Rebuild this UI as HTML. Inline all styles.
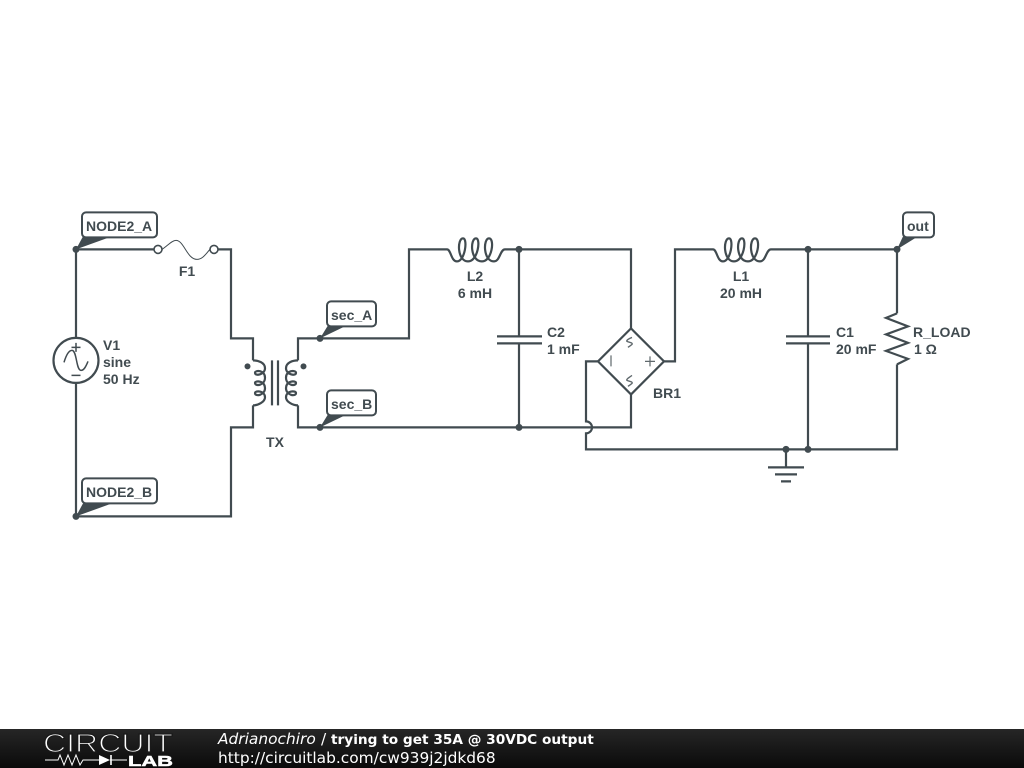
<!DOCTYPE html>
<html><head><meta charset="utf-8"><style>
html,body{margin:0;padding:0;background:#fff;width:1024px;height:768px;overflow:hidden}
svg{display:block}
.w{fill:none;stroke:#414b50;stroke-width:2.2;stroke-linejoin:miter}
.t{font-family:"Liberation Sans",sans-serif;font-weight:bold;font-size:14px;fill:#414b50}
.b{fill:#fff;stroke:#414b50;stroke-width:2}
.f{font-family:"DejaVu Sans",sans-serif;font-size:15.4px;fill:#fff}
</style></head><body>
<svg width="1024" height="768" viewBox="0 0 1024 768" xmlns="http://www.w3.org/2000/svg">
<defs><linearGradient id="g" x1="0" y1="0" x2="0" y2="1"><stop offset="0" stop-color="#262626"/><stop offset="1" stop-color="#0a0a0a"/></linearGradient></defs>
<rect width="1024" height="768" fill="#fff"/>
<g transform="translate(0 .4)">
<!-- wires -->
<path class="w" d="M76 338V249H155M218 249H231V338H253V360M253 405V427H231V516H76V382"/>
<path class="w" d="M298 360V338H409V249H447M505 249H631V328M631 394V427H298V405"/>
<path class="w" d="M664 361H675V249H713M771 249H897V313M897 364V449H586V433A6 6 0 0 0 586 421V361H598"/>
<path class="w" d="M519 249V336M519 343V427M497 336H542M497 343H542"/>
<path class="w" d="M808 249V336M808 343V449M786 336H830M786 343H830"/>
<path class="w" d="M786 449V467M768 467H804M775 474H797M781 481H791"/>
<!-- source -->
<circle class="w" cx="76" cy="360" r="22.5"/>
<path fill="none" stroke="#414b50" stroke-width="1.5" d="M64 362C67 352 70 350 72 350C77 350 76 370 81 370C84 370 86 366 88 361M71.5 347H80.5M76 342.5V351.5M71.5 375H80.5"/>
<!-- fuse -->
<circle cx="158" cy="249" r="4" fill="#fff" stroke="#414b50" stroke-width="1.6"/>
<circle cx="214" cy="249" r="4" fill="#fff" stroke="#414b50" stroke-width="1.6"/>
<path fill="none" stroke="#414b50" stroke-width="1" d="M162 249C168 245 172 240 176 240C184 240 187 259 197 259C203 259 206 253 210 249"/>
<!-- transformer -->
<path class="w" d="M253 360C258 360 265 362 265 367.800C265 374 255 376.300 255 372.400C255 369.500 265 369.500 265 377.300C265 385 255 386.400 255 382.500C255 380 265 380 265 387.700C265 394.900 255 396.700 255 392.600C255 390 265 390 265 397C265 401.500 258 405 253 405"/>
<path class="w" transform="translate(551 0) scale(-1 1)" d="M253 360C258 360 265 362 265 367.800C265 374 255 376.300 255 372.400C255 369.500 265 369.500 265 377.300C265 385 255 386.400 255 382.500C255 380 265 380 265 387.700C265 394.900 255 396.700 255 392.600C255 390 265 390 265 397C265 401.500 258 405 253 405"/>
<path class="w" d="M272 360V405M278 360V405"/>
<circle cx="247.500" cy="366" r="3" fill="#414b50"/><circle cx="303.500" cy="366" r="3" fill="#414b50"/>
<!-- inductors -->
<path class="w" d="M447 249C451 249 451 261 457 261C465 261 468 238 463 238C457 238 457 261 468 261C478 261 481 238 476 238C470 238 470 261 482 261C492 261 495 238 489 238C483 238 483 261 494 261C500 261 500 249 505 249"/>
<path class="w" transform="translate(266 0)" d="M447 249C451 249 451 261 457 261C465 261 468 238 463 238C457 238 457 261 468 261C478 261 481 238 476 238C470 238 470 261 482 261C492 261 495 238 489 238C483 238 483 261 494 261C500 261 500 249 505 249"/>
<!-- bridge -->
<path class="w" d="M631 328L664 361L631 394L598 361Z"/>
<path fill="none" stroke="#5f686c" stroke-width="1.2" d="M611 355V366M645 361H655M650 356V366"/>
<path fill="none" stroke="#5f686c" stroke-width="1.4" d="M632 337C629 338 626 340 627 341C629 342 633 342 632 344C631 345 629 346 628 347M632 375C629 377 626 379 627 380C629 381 633 381 632 383C631 384 629 385 628 386"/>
<!-- resistor -->
<path class="w" d="M897 313L886 317.500L908 326L886 334L908 342.500L886 350.500L908 358.500L897 364"/>
<!-- dots -->
<g fill="#414b50"><circle cx="76" cy="249" r="3.500"/><circle cx="76" cy="516" r="3.500"/><circle cx="320" cy="338" r="3.500"/><circle cx="320" cy="427" r="3.500"/><circle cx="519" cy="249" r="3.500"/><circle cx="519" cy="427" r="3.500"/><circle cx="808" cy="249" r="3.500"/><circle cx="808" cy="449" r="3.500"/><circle cx="786" cy="449" r="3.500"/><circle cx="897" cy="249" r="3.500"/></g>
<!-- callouts -->
<g fill="#414b50"><path d="M76 249L83 236H112Z"/><path d="M76 516L83 503H112Z"/><path d="M320 338L328 325H347Z"/><path d="M320 427L328 414H347Z"/><path d="M897 249L903 236H918Z"/></g>
<rect class="b" x="82" y="212" width="75" height="25" rx="4"/>
<rect class="b" x="82" y="478" width="75" height="25" rx="4"/>
<rect class="b" x="327" y="301" width="49" height="25" rx="4"/>
<rect class="b" x="327" y="390" width="49" height="25" rx="4"/>
<rect class="b" x="903" y="212" width="31" height="25" rx="4"/>
</g>
<g class="t">
<text x="86" y="231">NODE2_A</text>
<text x="86" y="497">NODE2_B</text>
<text x="331" y="320">sec_A</text>
<text x="331" y="409">sec_B</text>
<text x="907" y="231">out</text>
<text x="103" y="350">V1</text><text x="103" y="367">sine</text><text x="103" y="384">50 Hz</text>
<text x="187" y="276" text-anchor="middle">F1</text>
<text x="275" y="447" text-anchor="middle">TX</text>
<text x="475" y="281" text-anchor="middle">L2</text><text x="475" y="298" text-anchor="middle">6 mH</text>
<text x="547" y="337">C2</text><text x="547" y="354">1 mF</text>
<text x="653" y="398">BR1</text>
<text x="741" y="281" text-anchor="middle">L1</text><text x="741" y="298" text-anchor="middle">20 mH</text>
<text x="836" y="337">C1</text><text x="836" y="354">20 mF</text>
<text x="913" y="337">R_LOAD</text><text x="914" y="354">1 Ω</text>
</g>
<!-- footer -->
<rect x="0" y="729" width="1024" height="39" fill="url(#g)"/>
<text x="43" y="752" font-family="Liberation Sans,sans-serif" font-size="26" fill="#fff" stroke="#1a1a1a" stroke-width="1.200" textLength="130" lengthAdjust="spacingAndGlyphs">CIRCUIT</text>
<path fill="none" stroke="#fff" stroke-width="1" d="M45 760H58L60 755L64 765L68 755L72 765L76 755L80 765L83 760H100M110 760H127"/>
<path fill="#fff" d="M99 755L110 760L99 765Z"/><path stroke="#fff" stroke-width="1.6" d="M111 755V765"/>
<text x="128" y="766" font-family="Liberation Sans,sans-serif" font-weight="bold" font-size="15" fill="#fff" stroke="#fff" stroke-width="0.5" textLength="45" lengthAdjust="spacingAndGlyphs">LAB</text>
<text class="f" x="218" y="744" font-style="italic">Adrianochiro</text>
<text class="f" x="321" y="744">/</text>
<text class="f" x="331" y="744" font-weight="bold" style="font-size:13.7px">trying to get 35A @ 30VDC output</text>
<text class="f" x="218" y="763">http://circuitlab.com/cw939j2jdkd68</text>
</svg>
</body></html>
